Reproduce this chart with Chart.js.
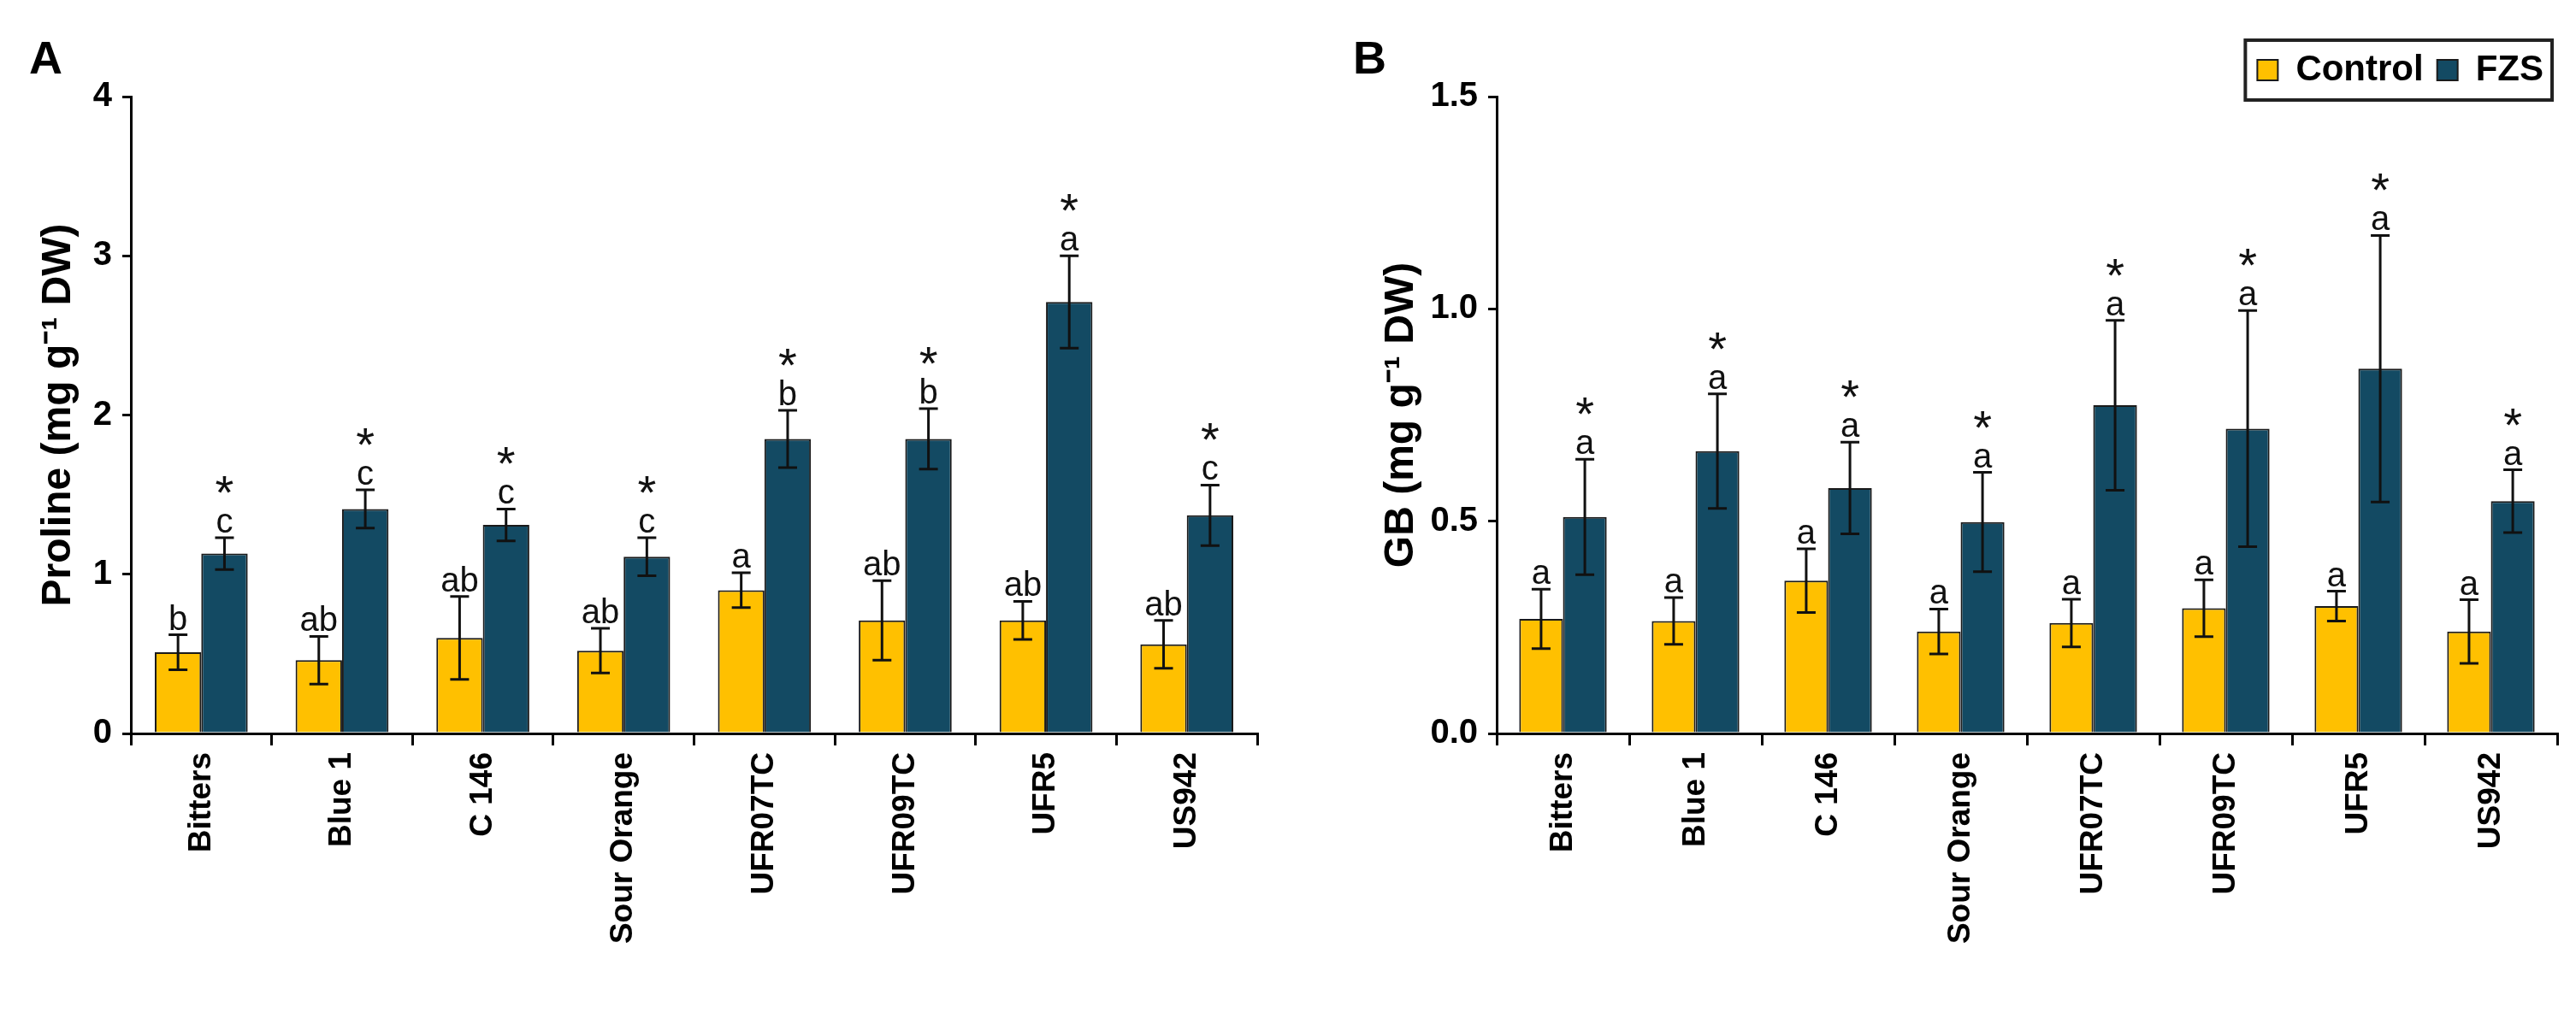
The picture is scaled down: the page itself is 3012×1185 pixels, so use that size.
<!DOCTYPE html>
<html lang="en">
<head>
<meta charset="UTF-8">
<title>Proline and GB</title>
<style>
  html, body { margin: 0; padding: 0; background: #fff; }
  body { width: 3012px; height: 1185px; position: relative; overflow: hidden; font-family: "Liberation Sans", Arial, sans-serif; }
  .panel { position: absolute; top: 0; }
  #boxA { left: 0; width: 1530px; height: 1185px; }
  #boxB { left: 1530px; width: 1482px; height: 1185px; }
  .tag { position: absolute; font-weight: bold; font-size: 54px; line-height: 1; }
</style>
</head>
<body>
<div class="panel" id="boxA"><canvas id="chartA" width="1530" height="1185"></canvas></div>
<div class="panel" id="boxB"><canvas id="chartB" width="1482" height="1185"></canvas></div>
<div class="tag" style="left:34px; top:40px;">A</div>
<div class="tag" style="left:1582px; top:40px;">B</div>

<script src="https://cdn.jsdelivr.net/npm/chart.js"></script>
<script>
// rootstocks on the x axis
const rootstocks = ["Bitters", "Blue 1", "C 146", "Sour Orange", "UFR07TC", "UFR09TC", "UFR5", "US942"];

// A: proline (mg g-1 DW)
const prolineControl = [0.51, 0.46, 0.60, 0.52, 0.90, 0.71, 0.71, 0.56];
const prolineControlErr = [0.11, 0.15, 0.26, 0.14, 0.11, 0.25, 0.12, 0.15];
const prolineFZS = [1.13, 1.41, 1.31, 1.11, 1.85, 1.85, 2.71, 1.37];
const prolineFZSErr = [0.10, 0.12, 0.10, 0.12, 0.18, 0.19, 0.29, 0.19];
const prolineControlLetters = ["b", "ab", "ab", "ab", "a", "ab", "ab", "ab"];
const prolineFZSLetters = ["c", "c", "c", "c", "b", "b", "a", "c"];

// B: glycine betaine (mg g-1 DW)
const gbControl = [0.27, 0.265, 0.36, 0.24, 0.26, 0.295, 0.30, 0.24];
const gbControlErr = [0.07, 0.055, 0.075, 0.053, 0.056, 0.067, 0.035, 0.075];
const gbFZS = [0.51, 0.665, 0.578, 0.498, 0.773, 0.718, 0.859, 0.547];
const gbFZSErr = [0.136, 0.135, 0.108, 0.117, 0.20, 0.278, 0.314, 0.074];
const gbControlLetters = ["a", "a", "a", "a", "a", "a", "a", "a"];
const gbFZSLetters = ["a", "a", "a", "a", "a", "a", "a", "a"];

const yellow = "#FFC000";
const navy = "#134A63";
const FONT = '"Liberation Sans", Arial, sans-serif';

Chart.defaults.font.family = FONT;
Chart.defaults.color = "#000";

// error bars, letters and stars on top of each bar
const marksPlugin = {
  id: "marks",
  afterDatasetsDraw(chart) {
    const ctx = chart.ctx;
    const y = chart.scales.y;
    chart.data.datasets.forEach((ds, i) => {
      const meta = chart.getDatasetMeta(i);
      meta.data.forEach((bar, j) => {
        const v = ds.data[j];
        const e = ds.errors[j];
        const top = y.getPixelForValue(v + e);
        const bot = y.getPixelForValue(v - e);
        ctx.save();
        ctx.strokeStyle = "#111";
        ctx.lineWidth = 3;
        ctx.beginPath();
        ctx.moveTo(bar.x, top); ctx.lineTo(bar.x, bot);
        ctx.moveTo(bar.x - 11, top); ctx.lineTo(bar.x + 11, top);
        ctx.moveTo(bar.x - 11, bot); ctx.lineTo(bar.x + 11, bot);
        ctx.stroke();
        ctx.fillStyle = "#111";
        ctx.textAlign = "center";
        ctx.textBaseline = "alphabetic";
        ctx.font = "40px " + FONT;
        ctx.fillText(ds.letters[j], bar.x, top - 6);
        if (ds.star) {
          ctx.font = "56px " + FONT;
          ctx.fillText("*", bar.x, top - 34);
        }
        ctx.restore();
      });
    });
  }
};

// box round the legend
const legendFrame = {
  id: "legendFrame",
  afterDraw(chart) {
    const lg = chart.legend;
    if (!lg || !lg.options.display || !lg.legendHitBoxes.length) return;
    const hb = lg.legendHitBoxes;
    const l = Math.min(...hb.map(h => h.left)) - 14;
    const r = Math.max(...hb.map(h => h.left + h.width)) + 10;
    const t = Math.min(...hb.map(h => h.top)) - 14;
    const b = Math.max(...hb.map(h => h.top + h.height)) + 14;
    const ctx = chart.ctx;
    ctx.save();
    ctx.strokeStyle = "#222";
    ctx.lineWidth = 4;
    ctx.strokeRect(l, t, r - l, b - t);
    ctx.restore();
  }
};

function makeChart(id, opt) {
  return new Chart(document.getElementById(id), {
    type: "bar",
    data: {
      labels: rootstocks,
      datasets: [
        { label: "Control", data: opt.control, errors: opt.controlErr, letters: opt.controlLetters, star: false,
          backgroundColor: yellow, borderColor: "#1a1a1a", borderWidth: 2,
          categoryPercentage: 0.66, barPercentage: 1.0 },
        { label: "FZS", data: opt.fzs, errors: opt.fzsErr, letters: opt.fzsLetters, star: true,
          backgroundColor: navy, borderColor: "#1a1a1a", borderWidth: 2,
          categoryPercentage: 0.66, barPercentage: 1.0 }
      ]
    },
    options: {
      responsive: false,
      animation: false,
      devicePixelRatio: 1,
      layout: { padding: opt.padding },
      plugins: {
        legend: {
          display: opt.legend,
          position: "top",
          align: "end",
          labels: { boxWidth: 24, boxHeight: 24, padding: 16, color: "#000",
                    font: { size: 42, weight: "bold" } }
        },
        tooltip: { enabled: false }
      },
      scales: {
        x: {
          ticks: { font: { size: 37, weight: "bold" }, color: "#000", minRotation: 90, maxRotation: 90,
                   autoSkip: false, padding: 8 },
          grid: { drawOnChartArea: false, offset: true, tickLength: 14, color: "#000", lineWidth: 3 },
          border: { color: "#000", width: 3 },
          afterFit(s) { s.height = 327; }
        },
        y: {
          min: 0,
          max: opt.max,
          ticks: { stepSize: opt.step, font: { size: 40, weight: "bold" }, color: "#000", padding: 12,
                   callback: opt.tickFmt },
          grid: { drawOnChartArea: false, tickLength: 10, color: "#000", lineWidth: 3 },
          border: { color: "#000", width: 3 },
          title: { display: true, text: opt.title, color: "#000", font: { size: 48, weight: "bold" },
                   padding: { top: opt.titlePad, bottom: 0 } },
          afterFit(s) { s.width = opt.yWidth; }
        }
      }
    },
    plugins: [marksPlugin, legendFrame]
  });
}

makeChart("chartA", {
  control: prolineControl, controlErr: prolineControlErr, controlLetters: prolineControlLetters,
  fzs: prolineFZS, fzsErr: prolineFZSErr, fzsLetters: prolineFZSLetters,
  max: 4, step: 1, tickFmt: v => v.toFixed(0),
  title: "Proline (mg g\u207B\u00B9 DW)", titlePad: 40, yWidth: 153,
  padding: { left: 0, right: 60, top: 113, bottom: 0 }, legend: false
});

makeChart("chartB", {
  control: gbControl, controlErr: gbControlErr, controlLetters: gbControlLetters,
  fzs: gbFZS, fzsErr: gbFZSErr, fzsLetters: gbFZSLetters,
  max: 1.5, step: 0.5, tickFmt: v => v.toFixed(1),
  title: "GB (mg g\u207B\u00B9 DW)", titlePad: 60, yWidth: 200,
  padding: { left: 20, right: 22, top: 45, bottom: 0 }, legend: true
});
</script>
</body>
</html>
